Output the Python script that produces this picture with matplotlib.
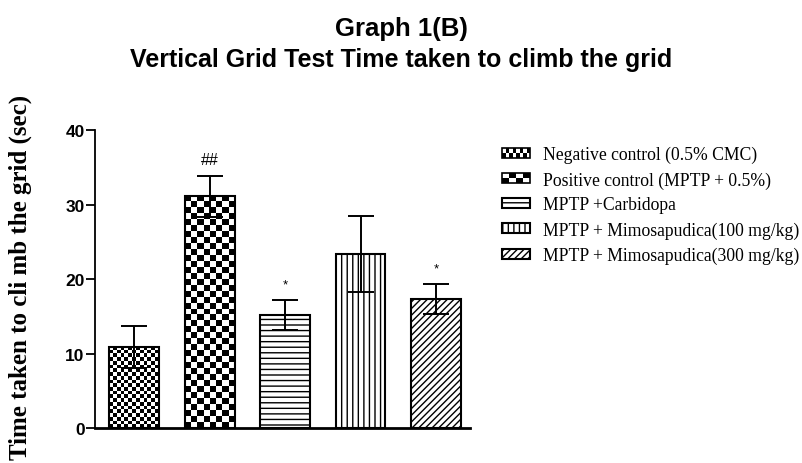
import numpy as np
import matplotlib
matplotlib.use("Agg")
import matplotlib.pyplot as plt
from matplotlib.patches import Rectangle
from matplotlib.legend_handler import HandlerBase

# data (mean +/- SEM)
groups = ["Negative control (0.5% CMC)",
          "Positive control (MPTP + 0.5%)",
          "MPTP +Carbidopa",
          "MPTP + Mimosapudica(100 mg/kg)",
          "MPTP + Mimosapudica(300 mg/kg)"]
means = [10.9, 31.1, 15.2, 23.4, 17.3]
sems = [2.8, 2.7, 2.0, 5.1, 2.0]
marks = ["", "##", "*", "", "*"]
yticks = [0, 10, 20, 30, 40]

# fill style per group: ("checker", size in px) or ("hatch", pattern)
styles = [("checker", 3.7), ("checker", 6), ("hatch", "---"), ("hatch", "|||"), ("hatch", "/////")]

plt.rcParams["hatch.linewidth"] = 1.0
fig = plt.figure(figsize=(8.03, 4.64), dpi=100)
ax = fig.add_axes([0.1183, 0.0744, 0.4670, 0.6433])
ax.set_xlim(-0.52, 4.45)
ax.set_ylim(0, 40)

x = np.arange(len(groups))
handles = []
for i in range(len(groups)):
    kind, val = styles[i]
    if kind == "hatch":
        bc = ax.bar(x[i], means[i], 0.66, facecolor="white", edgecolor="black",
                    linewidth=1.5, hatch=val, zorder=2)
    else:
        bc = ax.bar(x[i], means[i], 0.66, facecolor="none", edgecolor="black",
                    linewidth=1.5, zorder=2)
    handles.append(bc.patches[0])


def checker(ax, bar, size_px):
    bb = bar.get_window_extent()
    nx = max(1, round(bb.width / size_px))
    ny = max(1, round(bb.height / size_px))
    board = np.indices((ny, nx)).sum(axis=0) % 2
    x0, y0 = bar.get_xy()
    im = ax.imshow(board, cmap="gray", origin="lower", interpolation="nearest",
                   aspect="auto", zorder=1.5,
                   extent=(x0, x0 + bar.get_width(), y0, y0 + bar.get_height()))
    im.set_clip_path(bar)


for i, (kind, val) in enumerate(styles):
    if kind == "checker":
        checker(ax, handles[i], val)

ax.set_xlim(-0.52, 4.45)
ax.set_ylim(0, 40)

ax.errorbar(x, means, yerr=sems, fmt="none", ecolor="black", elinewidth=1.4,
            capsize=9.5, capthick=1.4, zorder=4)

for i, m in enumerate(marks):
    if m:
        ax.text(x[i], means[i] + sems[i] + 1.7, m, ha="center", va="baseline",
                fontsize=11.5 if m == "##" else 9.5, family="Liberation Sans")

for s in ["top", "right"]:
    ax.spines[s].set_visible(False)
ax.spines["left"].set_linewidth(1.3)
ax.spines["bottom"].set_linewidth(2.0)
ax.set_xticks([])
ax.set_yticks(yticks)
ax.tick_params(axis="y", length=6.5, width=1.3, pad=1, labelsize=12.5)
for lab in ax.get_yticklabels():
    lab.set_fontweight("bold")
    lab.set_family("Liberation Sans")

fig.text(0.5, 1 - 36 / 464, "Graph 1(B)", ha="center", va="baseline",
         fontsize=18.5, fontweight="bold", family="Liberation Sans")
fig.text(0.5, 1 - 67 / 464, "Vertical Grid Test Time taken to climb the grid",
         ha="center", va="baseline", fontsize=18, fontweight="bold",
         family="Liberation Sans")
fig.text(20 / 803, 1 - 277 / 464, "Time taken to cli mb the grid (sec)",
         rotation=90, ha="center", va="center", fontsize=18, fontweight="bold",
         family="Liberation Serif")


class CheckerHandler(HandlerBase):
    def __init__(self, nx, ny):
        super().__init__()
        self.nx, self.ny = nx, ny

    def create_artists(self, legend, orig_handle, xdescent, ydescent,
                       width, height, fontsize, trans):
        cw, ch = width / self.nx, height / self.ny
        arts = [Rectangle((-xdescent, -ydescent), width, height, facecolor="white",
                          edgecolor="black", lw=1.2, transform=trans)]
        for a in range(self.nx):
            for b in range(self.ny):
                if (a + b) % 2 == 0:
                    arts.append(Rectangle((-xdescent + a * cw, -ydescent + b * ch),
                                          cw, ch, facecolor="black",
                                          edgecolor="none", transform=trans))
        return arts


leg = fig.legend(handles, groups, loc="upper left",
                 bbox_to_anchor=(502 / 803, 1 - 147 / 464),
                 frameon=False, borderpad=0, borderaxespad=0,
                 handlelength=1.6, handleheight=0.5, handletextpad=0.75,
                 labelspacing=0.45,
                 prop={"family": "Liberation Serif", "size": 12.7},
                 handler_map={handles[0]: CheckerHandler(8, 2),
                              handles[1]: CheckerHandler(4, 2)})

fig.savefig("out.png", dpi=100)
